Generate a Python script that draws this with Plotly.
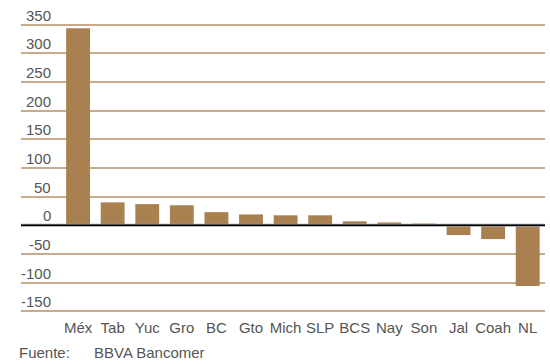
import plotly.graph_objects as go

categories = ["Méx", "Tab", "Yuc", "Gro", "BC", "Gto", "Mich", "SLP", "BCS", "Nay", "Son", "Jal", "Coah", "NL"]
values = [344, 40, 37, 35, 23, 19, 17.5, 17.5, 7, 5, 3, -17, -24, -106]
y_ticks = [350, 300, 250, 200, 150, 100, 50, 0, -50, -100, -150]
source_label = "Fuente:"
source_name = "BBVA Bancomer"

BAR = "#a98150"
GRID = "#c8ab8a"
TEXT = "#555555"
FONT = "Liberation Sans"
FS = 15

fig = go.Figure()
fig.add_trace(go.Bar(x=list(range(len(categories))), y=values, marker_color=BAR,
                     marker_line_width=0, width=0.69))

L, R, T, B = 21, 5, 19, 47
W, H = 550, 364
plot_w = W - L - R
plot_h = H - T - B

fig.update_layout(
    width=W, height=H,
    margin=dict(l=L, r=R, t=T, b=B),
    paper_bgcolor="white", plot_bgcolor="white",
    showlegend=False,
    font=dict(family=FONT, size=FS, color=TEXT),
    xaxis=dict(range=[-1.65, 13.5], tickmode="array", tickvals=list(range(len(categories))),
               ticktext=categories, showgrid=False, zeroline=False, showline=False,
               ticks="", tickfont=dict(size=FS, color=TEXT, family=FONT)),
    yaxis=dict(range=[-160, 360], tickmode="array", tickvals=[t for t in y_ticks if t != 0],
               showticklabels=False, showgrid=True, gridcolor=GRID, gridwidth=2,
               zeroline=False, showline=False, ticks=""),
)

# zero line (black with grey shadow)
fig.add_shape(type="line", xref="paper", yref="y", x0=0, x1=1, y0=0, y1=0,
              line=dict(color="#a0a0a0", width=3), layer="above")
fig.add_shape(type="line", xref="paper", yref="y", x0=0, x1=1, y0=0, y1=0,
              line=dict(color="#000000", width=1.5), layer="above")

for t in y_ticks:
    fig.add_annotation(xref="paper", yref="y", x=(53 - L) / plot_w, y=t,
                       text=str(t), showarrow=False, xanchor="right", yanchor="bottom",
                       yshift=-1, font=dict(size=FS, color=TEXT, family=FONT))

fig.add_annotation(xref="paper", yref="paper", x=(17 - L) / plot_w, y=(H - B - 352) / plot_h,
                   text=source_label, showarrow=False, xanchor="left", yanchor="middle",
                   font=dict(size=FS, color=TEXT, family=FONT))
fig.add_annotation(xref="paper", yref="paper", x=(92 - L) / plot_w, y=(H - B - 352) / plot_h,
                   text=source_name, showarrow=False, xanchor="left", yanchor="middle",
                   font=dict(size=FS, color=TEXT, family=FONT))

fig.write_html("out.html", config={"displayModeBar": False},
               post_script="document.body.style.margin='0';document.body.style.overflow='hidden';")
